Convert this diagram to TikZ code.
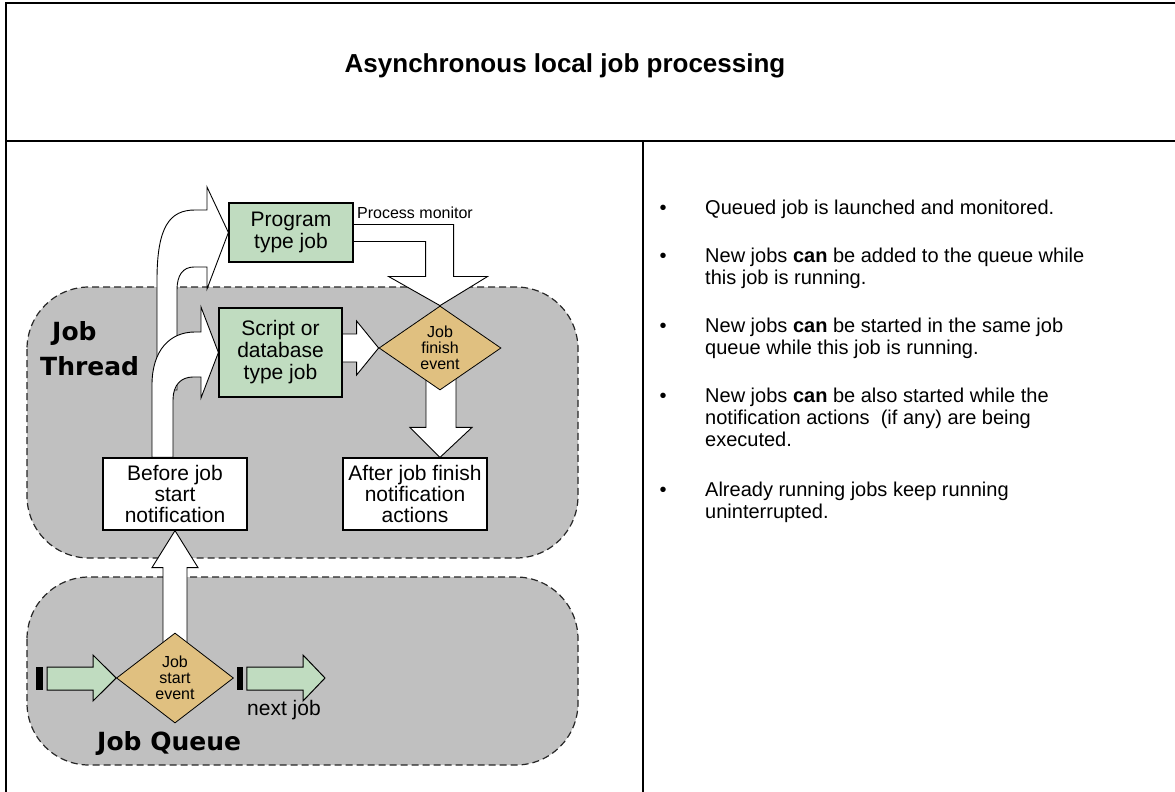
\documentclass[tikz,border=0pt]{standalone}
\usepackage{fontspec}
\setmainfont{Liberation Sans}
\newfontfamily\lanefont{DejaVu Sans}
\usetikzlibrary{shapes.geometric,calc,backgrounds}
\definecolor{boxgreen}{RGB}{192,220,192}
\definecolor{eventtan}{RGB}{224,192,128}
\definecolor{lanegray}{RGB}{192,192,192}

\begin{document}
\begin{tikzpicture}[x=1pt,y=-1pt]
	\tikzstyle{frame-line}=[line width=2.2pt]
	\tikzstyle{lane}=[fill=lanegray,draw=black!85,line width=1.2pt,dash pattern=on 7pt off 4pt,rounded corners=62pt]
	\tikzstyle{green-box}=[draw,fill=boxgreen,line width=1.2pt,inner sep=0pt,font=\fontsize{21}{22}\selectfont,align=center]
	\tikzstyle{white-box}=[draw,fill=white,line width=1.2pt,inner sep=0pt,font=\fontsize{21}{21}\selectfont,align=center]
	\tikzstyle{event}=[diamond,aspect=1.4,draw,fill=eventtan,line width=0.8pt,inner sep=0pt,font=\fontsize{16}{16}\selectfont,align=center]
	\tikzstyle{fat-arrow}=[fill=white,draw,line width=0.9pt]
	\tikzstyle{green-arrow}=[fill=boxgreen,draw,line width=1pt]
	\tikzstyle{lane-label}=[font=\lanefont\bfseries\fontsize{25}{28}\selectfont,anchor=base west,inner sep=0pt]
	\tikzstyle{bullet-text}=[font=\fontsize{20}{22}\selectfont,align=left,anchor=base west,inner sep=0pt]
	\tikzstyle{bullet-dot}=[font=\fontsize{20}{22}\selectfont,anchor=base,inner sep=0pt]
	\useasboundingbox (0,0) rectangle (1175,792);
	\clip (0,0) rectangle (1175,792);
	% table frame
	\draw [frame-line] (6,800) -- (6,3) -- (1180,3);
	\draw [frame-line] (6,141) -- (1180,141);
	\draw [frame-line] (643,141) -- (643,800);
	\node [font=\fontsize{26}{30}\selectfont\bfseries,anchor=base] (title) at (565,73) {Asynchronous local job processing};
	% job thread
	\node [green-box,minimum width=124pt,minimum height=59pt] (prog) at (291,232.5) {Program\\type job};
	\node [green-box,minimum width=123pt,minimum height=89pt] (script) at (280.5,352.5) {Script or\\database\\type job};
	\node [event,minimum width=122pt,minimum height=84pt] (fin) at (440,348) {Job\\finish\\event};
	\node [white-box,minimum width=144pt,minimum height=72pt] (after) at (415,494) {After job finish\\notification\\actions};
	\node [white-box,minimum width=144pt,minimum height=72pt] (before) at (175,494) {Before job\\start\\notification};
	\node [font=\fontsize{16}{18}\selectfont,anchor=base west,inner sep=0pt] (monitor) at (357,218) {Process monitor};
	\node [lane-label] (thread1) at (52,340) {Job};
	\node [lane-label] (thread2) at (40,375) {Thread};
	% job queue
	\node [event,minimum width=117pt,minimum height=90pt] (qstart) at (175,678) {Job\\start\\event};
	\node [font=\fontsize{21}{22}\selectfont,anchor=base west,inner sep=0pt] (nextjob) at (247,715) {next job};
	\node [lane-label] (queue) at (97,750) {Job Queue};
	\coordinate (queuein) at (36,678);
	\coordinate (queueout) at (325,678);
	% notes (base = last line)
	\node [bullet-dot] (dot1) at (663,214) {\textbullet};
	\node [bullet-text] (note1) at (705,214) {Queued job is launched and monitored.};
	\node [bullet-dot] (dot2) at (663,262) {\textbullet};
	\node [bullet-text] (note2) at (705,284) {New jobs \textbf{can} be added to the queue while\\this job is running.};
	\node [bullet-dot] (dot3) at (663,332) {\textbullet};
	\node [bullet-text] (note3) at (705,354) {New jobs \textbf{can} be started in the same job\\queue while this job is running.};
	\node [bullet-dot] (dot4) at (663,402) {\textbullet};
	\node [bullet-text] (note4) at (705,446) {New jobs \textbf{can} be also started while the\\notification actions\ \ (if any) are being\\executed.};
	\node [bullet-dot] (dot5) at (663,496) {\textbullet};
	\node [bullet-text] (note5) at (705,518) {Already running jobs keep running\\uninterrupted.};
	\begin{pgfonlayer}{background}
		% lanes
		\draw [lane] (27,287) rectangle (578,558);
		\draw [lane] (27,577) rectangle (578,765);
		% start event up to notification
		\draw [fat-arrow] ($(qstart.north)+(-12,15)$) -- ($(before.south)+(-12,37)$) -- ($(before.south)+(-23,37)$) -- (before.south) -- ($(before.south)+(23,37)$) -- ($(before.south)+(12,37)$) -- ($(qstart.north)+(12,15)$) -- cycle;
		% notification up to the jobs
		\draw [fat-arrow] (157,390) -- (157,280) .. controls (157,226) and (170,210) .. (195,210) -- (207,210) -- (207,187) -- (prog.west) -- (207,289) -- (207,267) -- (194,267) .. controls (183,267) and (177,275) .. (177,290) -- (177,390) -- cycle;
		\draw [fat-arrow] ($(before.north)+(-23,0)$) -- (152,385) .. controls (152,350) and (170,332) .. (195,332) -- (201,332) -- (201,307) -- (script.west) -- (201,398) -- (201,377) -- (193,377) .. controls (181,377) and (173,385) .. (173,400) -- ($(before.north)+(-2,0)$) -- cycle;
		% jobs to finish event
		\draw [fat-arrow] ($(fin.west)+(-38,-14)$) -- ($(fin.west)+(-22,-14)$) -- ($(fin.west)+(-22,-27)$) -- (fin.west) -- ($(fin.west)+(-22,27)$) -- ($(fin.west)+(-22,14)$) -- ($(fin.west)+(-38,14)$) -- cycle;
		\draw [fat-arrow] ($(prog.east)+(-2,-8)$) -- ($(prog.east)+(100,-8)$) -- ($(prog.east)+(100,44)$) -- ($(prog.east)+(134,44)$) -- (fin.north) -- ($(prog.east)+(35,44)$) -- ($(prog.east)+(72,44)$) -- ($(prog.east)+(72,9)$) -- ($(prog.east)+(-2,9)$) -- cycle;
		% finish event down to notification
		\draw [fat-arrow] ($(fin.south)+(-14,-12)$) -- ($(fin.south)+(-14,37)$) -- ($(fin.south)+(-30,37)$) -- (fin.south |- after.north) -- ($(fin.south)+(32,37)$) -- ($(fin.south)+(16,37)$) -- ($(fin.south)+(16,-12)$) -- cycle;
		% queue in and out
		\fill ($(queuein)+(0,-11)$) rectangle ($(queuein)+(7,12)$);
		\draw [green-arrow] ($(queuein)+(11,-11)$) -- ($(queuein)+(57,-11)$) -- ($(queuein)+(57,-23)$) -- (qstart.west) -- ($(queuein)+(57,23)$) -- ($(queuein)+(57,12)$) -- ($(queuein)+(11,12)$) -- cycle;
		\fill ($(qstart.east)+(3,-11)$) rectangle ($(qstart.east)+(9,12)$);
		\draw [green-arrow] ($(qstart.east)+(13,-11)$) -- ($(queueout)+(-22,-11)$) -- ($(queueout)+(-22,-23)$) -- (queueout) -- ($(queueout)+(-22,23)$) -- ($(queueout)+(-22,12)$) -- ($(qstart.east)+(13,12)$) -- cycle;
	\end{pgfonlayer}
\end{tikzpicture}
\end{document}
